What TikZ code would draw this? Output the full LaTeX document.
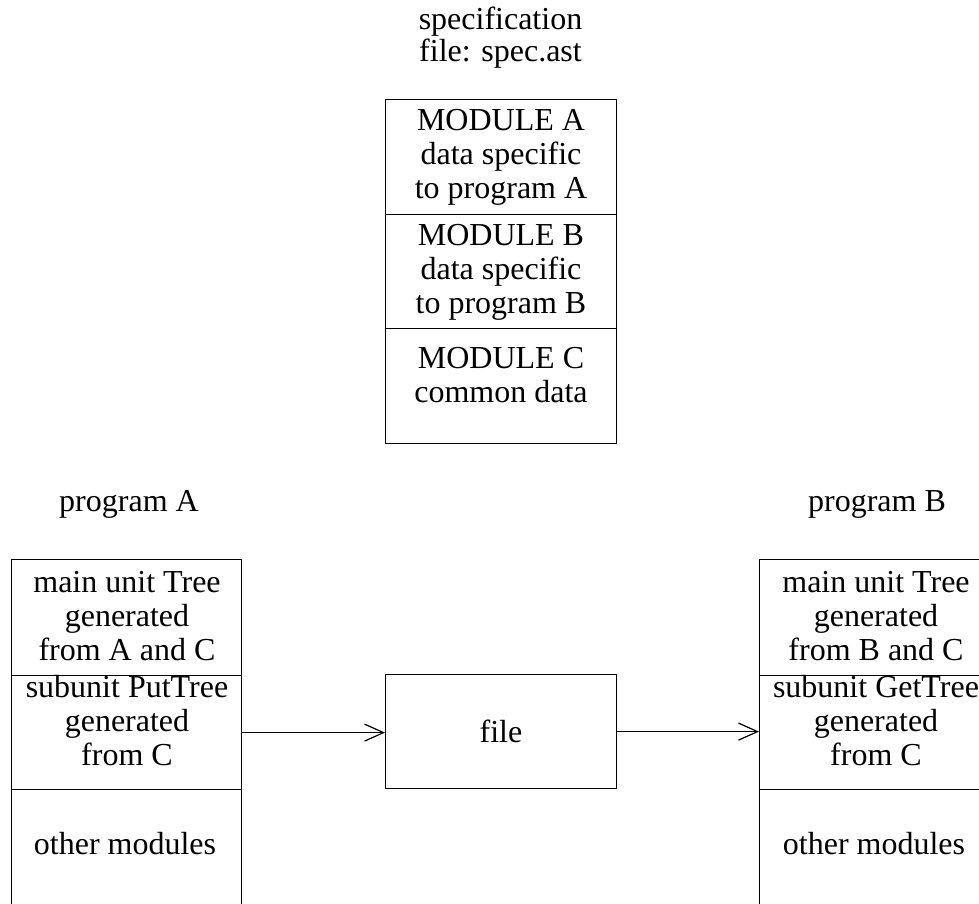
\documentclass[tikz,border=0pt]{standalone}
\usepackage{fontspec}
\setmainfont{Liberation Serif}
\usetikzlibrary{arrows.meta}
\begin{document}
\begin{tikzpicture}[x=1pt,y=-1pt,
  sect/.style={draw, line width=1.2pt, minimum width=230pt, inner sep=0pt, anchor=north west},
  txt/.style={align=center, inner sep=0pt, font=\fontsize{32}{34}\selectfont},
  conn/.style={line width=1.2pt, -{Straight Barb[length=19pt,width=17pt,line width=1.2pt]}}]
\useasboundingbox (0,0) rectangle (979,903);
\clip (0,0) rectangle (979,903);
% specification box
\node[sect, minimum width=231pt, minimum height=115pt] (sA) at (385,99) {};
\node[sect, minimum width=231pt, minimum height=114pt] (sB) at (385,214) {};
\node[sect, minimum width=231pt, minimum height=115pt] (sC) at (385,328) {};
\node[txt, font=\fontsize{32}{32}\selectfont] (title) at (500.5,38) {specification\\file: spec.ast};
\node[txt] (tA) at (501,157) {MODULE A\\data specific\\to program A};
\node[txt] (tB) at (501,272) {MODULE B\\data specific\\to program B};
\node[txt] (tC) at (501,375) {MODULE C\\common data};
% program A
\node[txt, anchor=base] (progA) at (129,511) {program A};
\node[sect, minimum height=116pt] (lA) at (11,559) {};
\node[sect, minimum height=114pt] (lB) at (11,675) {};
\node[sect, minimum height=115pt] (lC) at (11,789) {};
\node[txt] (lAt) at (127,616) {main unit Tree\\generated\\from A and C};
\node[txt] (lBt) at (127,721) {subunit PutTree\\generated\\from C};
\node[txt, anchor=base] (lCt) at (125,854) {other modules};
% program B
\node[txt, anchor=base] (progB) at (877,511) {program B};
\node[sect, minimum height=116pt] (rA) at (759,559) {};
\node[sect, minimum height=114pt] (rB) at (759,675) {};
\node[sect, minimum height=115pt] (rC) at (759,789) {};
\node[txt] (rAt) at (876,616) {main unit Tree\\generated\\from B and C};
\node[txt] (rBt) at (876,721) {subunit GetTree\\generated\\from C};
\node[txt, anchor=base] (rCt) at (874,854) {other modules};
% file
\node[sect, minimum width=231pt, minimum height=114pt] (file) at (385,674) {};
\node[txt, anchor=base] (filet) at (501,742) {file};
% connectors
\draw[conn] (lB.east) -- (lB.east -| file.west);
\draw[conn] (file.east) -- (file.east -| rB.west);
\end{tikzpicture}
\end{document}
